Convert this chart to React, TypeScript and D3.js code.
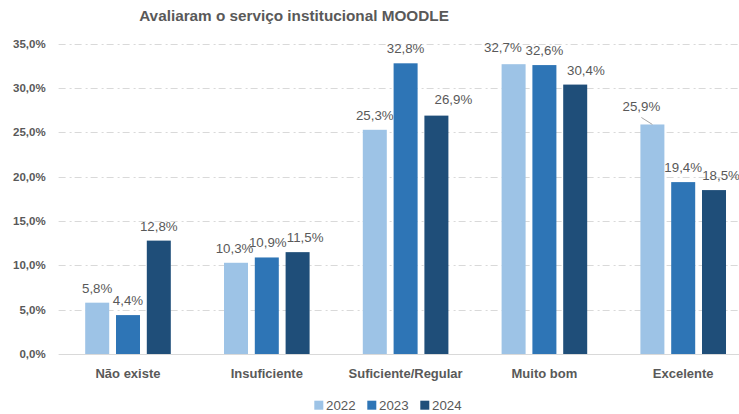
import React from "react";
import * as d3 from "d3";

const categories = ["Não existe", "Insuficiente", "Suficiente/Regular", "Muito bom", "Excelente"];
const years = ["2022", "2023", "2024"];
const values2022 = [5.8, 10.3, 25.3, 32.7, 25.9];
const values2023 = [4.4, 10.9, 32.8, 32.6, 19.4];
const values2024 = [12.8, 11.5, 26.9, 30.4, 18.5];
const yTicks = [0, 5, 10, 15, 20, 25, 30, 35];
const title = "Avaliaram o serviço institucional MOODLE";

const seriesValues = [values2022, values2023, values2024];
const colors = ["#9DC3E6", "#2E75B6", "#1F4E79"];

// manual label nudges (dx, dy) keyed by "series-category"
const labelNudges: Record<string, [number, number]> = {
  "0-1": [-1.5, 0],
  "1-1": [1, 0],
  "2-2": [17, -1.5],
  "0-3": [-10.7, -2],
  "2-3": [10.7, 0],
  "0-4": [-11, -3.5],
  "2-4": [7, 0],
  "2-1": [7.5, 0],
};
const leaderLines = new Set(["0-4"]);

const W = 739;
const H = 414;
const FONT = "'Liberation Sans', Arial, sans-serif";
const GRAY = "#595959";

export default function App() {
  const x0 = d3.scaleBand<string>().domain(categories).range([58.6, 58.6 + 5 * 138.8]).padding(0);
  const x1 = d3
    .scaleBand<string>()
    .domain(years)
    .range([0, x0.bandwidth()])
    .paddingInner(0.2208)
    .paddingOuter(0.8635);
  const y = d3.scaleLinear().domain([0, 35]).range([354.1, 43.8]);
  const fmt = (v: number) => v.toFixed(1).replace(".", ",");

  return (
    <svg
      width={W}
      height={H}
      style={{ position: "absolute", left: 0, top: 0, background: "#fff" }}
      fontFamily={FONT}
    >
      <rect x={0} y={0} width={W} height={H} fill="#fff" />
      <text x={294} y={20.5} textAnchor="middle" fontSize={15.3} fontWeight="bold" fill={GRAY}>
        {title}
      </text>

      {yTicks.map((t) => (
        <g key={t}>
          {t > 0 && (
            <line
              x1={58.6}
              x2={W}
              y1={Math.round(y(t)) + 0.5}
              y2={Math.round(y(t)) + 0.5}
              stroke="#d9d9d9"
              strokeWidth={1}
              strokeDasharray="7,4,2,3"
            />
          )}
          <text
            x={45.7}
            y={y(t)}
            dy="0.35em"
            textAnchor="end"
            fontSize={11.5}
            fontWeight="bold"
            fill={GRAY}
          >
            {fmt(t) + "%"}
          </text>
        </g>
      ))}

      {categories.map((c, ci) => (
        <g key={c}>
          {years.map((yr, si) => {
            const v = seriesValues[si][ci];
            const bx = (x0(c) as number) + (x1(yr) as number);
            const bw = x1.bandwidth();
            return (
              <rect key={yr} x={bx} y={y(v)} width={bw} height={y(0) - y(v)} fill={colors[si]} />
            );
          })}
          {years.map((yr, si) => {
            const v = seriesValues[si][ci];
            const cx = (x0(c) as number) + (x1(yr) as number) + x1.bandwidth() / 2;
            const key = `${si}-${ci}`;
            const [dx, dy] = labelNudges[key] || [0, 0];
            const lx = cx + dx;
            const ly = y(v) - 10 + dy;
            return (
              <g key={yr}>
                {leaderLines.has(key) && (
                  <line x1={lx} y1={ly + 6.5} x2={cx} y2={y(v)} stroke="#a6a6a6" strokeWidth={1} />
                )}
                <text x={lx} y={ly} textAnchor="middle" fontSize={13.3} fill={GRAY}>
                  {fmt(v) + "%"}
                </text>
              </g>
            );
          })}
          <text
            x={(x0(c) as number) + x0.bandwidth() / 2}
            y={378.3}
            textAnchor="middle"
            fontSize={13}
            fontWeight="bold"
            fill={GRAY}
          >
            {c}
          </text>
        </g>
      ))}

      <line x1={58.6} x2={W} y1={354.5} y2={354.5} stroke="#d9d9d9" strokeWidth={1} />

      {years.map((yr, si) => {
        const lx = 314.3 + si * 53;
        return (
          <g key={yr}>
            <rect x={lx} y={400.7} width={9} height={9} fill={colors[si]} />
            <text x={lx + 11.7} y={409.7} fontSize={13.3} fill={GRAY}>
              {yr}
            </text>
          </g>
        );
      })}
    </svg>
  );
}
